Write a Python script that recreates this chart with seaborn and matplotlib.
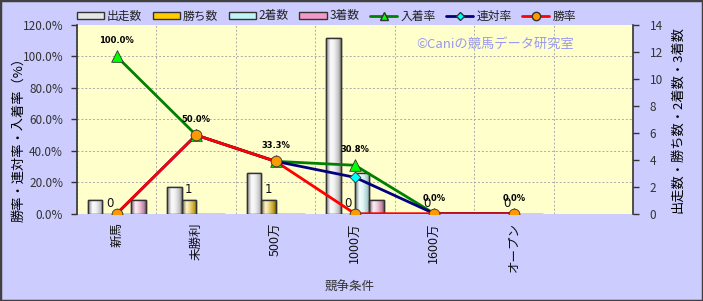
import numpy as np
import pandas as pd
import matplotlib
matplotlib.use("Agg")
import matplotlib.pyplot as plt
from matplotlib.colors import LinearSegmentedColormap, to_rgb
from matplotlib.patches import Patch, Rectangle
from matplotlib.lines import Line2D
import seaborn as sns

# ---------------- data ----------------
categories = ["新馬", "未勝利", "500万", "1000万", "1600万", "オープン"]
starts = [1, 2, 3, 13, 0, 0]          # 出走数
wins = [0, 1, 1, 0, 0, 0]             # 勝ち数
seconds = [0, 0, 0, 3, 0, 0]          # 2着数
thirds = [1, 0, 0, 1, 0, 0]           # 3着数
show_rate = [100.0, 50.0, 33.3, 30.8, 0.0, 0.0]   # 入着率
quinella_rate = [0.0, 50.0, 33.3, 23.1, 0.0, 0.0]  # 連対率
win_rate = [0.0, 50.0, 33.3, 0.0, 0.0, 0.0]        # 勝率
bar_series = ["出走数", "勝ち数", "2着数", "3着数"]
line_series = ["入着率", "連対率", "勝率"]
left_ticks = [0, 20, 40, 60, 80, 100, 120]
right_ticks = [0, 2, 4, 6, 8, 10, 12, 14]

sns.set_theme(style="white")
plt.rcParams["font.family"] = ["Noto Sans CJK JP", "DejaVu Sans"]

bar_colors = {"出走数": "#E6E6E6", "勝ち数": "#FFCC00", "2着数": "#BFF5F5", "3着数": "#F29AC4"}
line_colors = {"入着率": "#008000", "連対率": "#000080", "勝率": "#FF0000"}
marker_fill = {"入着率": "#00FF00", "連対率": "#00FFFF", "勝率": "#FF9900"}
marker_shape = {"入着率": "^", "連対率": "D", "勝率": "o"}
marker_size = {"入着率": 70, "連対率": 30, "勝率": 60}

bars_df = pd.DataFrame({
    "cat": np.tile(categories, 4),
    "series": np.repeat(bar_series, len(categories)),
    "value": starts + wins + seconds + thirds,
})
lines_df = pd.DataFrame({
    "pos": np.tile(np.arange(len(categories)), 3),
    "series": np.repeat(line_series, len(categories)),
    "rate": show_rate + quinella_rate + win_rate,
})

W, H = 703, 301
fig = plt.figure(figsize=(W / 100, H / 100), dpi=100)
fig.patch.set_facecolor("#CCCCFF")
fig.patches.append(Rectangle((0, 0), 1, 1, transform=fig.transFigure, fill=False,
                             edgecolor="#404040", linewidth=2.5, zorder=10))

ax = fig.add_axes([77 / W, 1 - 213.7 / H, 556 / W, 188.7 / H])
ax.set_facecolor("#FFFFCC")

sns.barplot(data=bars_df, x="cat", y="value", hue="series", order=categories,
            hue_order=bar_series, palette=bar_colors, width=0.73, ax=ax,
            edgecolor="#333333", linewidth=1.0, legend=False, zorder=3)

# gradient shading on bars (cylinder look)
for p in list(ax.patches):
    h = p.get_height()
    if h <= 0:
        continue
    x0, w = p.get_x(), p.get_width()
    base = np.array(to_rgb(p.get_facecolor()))
    dark = base * 0.55
    light = base + (1 - base) * 0.85
    cmap = LinearSegmentedColormap.from_list(
        "g", [(0, dark), (0.3, light), (0.55, base + (1 - base) * 0.4), (0.85, base * 0.85), (1, dark)])
    grad = np.linspace(0, 1, 64).reshape(1, -1)
    im = ax.imshow(grad, cmap=cmap, extent=[x0, x0 + w, 0, h], aspect="auto",
                   zorder=3.5, interpolation="bilinear")
    im.set_clip_path(p)
    p.set_zorder(3)
    edge = Rectangle((x0, 0), w, h, fill=False, edgecolor="#333333", linewidth=1.0, zorder=4)
    ax.add_patch(edge)

# labels for 勝ち数 bars
bw = 0.73 / 4
for i, v in enumerate(wins):
    ax.annotate(str(v), (i - 0.5 * bw, v), xytext=(0, 3), textcoords="offset points",
                ha="center", va="bottom", fontsize=8.5, color="#111111",
                family=["DejaVu Sans"], zorder=6)

# -------- rate lines on twin axis --------
ax2 = ax.twinx()
ax2.patch.set_visible(False)

ax.set_xlim(-0.5, 6.5)
ax.set_ylim(0, 14)
ax.yaxis.tick_right()
ax.yaxis.set_label_position("right")
ax.set_yticks(right_ticks)
ax.set_yticklabels([str(t) for t in right_ticks], fontsize=8.5, color="#333333")
ax.set_yticks(np.linspace(0, 14, 7), minor=True)
ax.set_xticks(np.arange(-0.5, 7, 1), minor=True)
ax.grid(which="minor", color="#AAAAAA", linestyle=(0, (2, 2)), linewidth=0.7, zorder=0)
ax.grid(which="major", visible=False)
ax.set_axisbelow(True)
ax.tick_params(axis="y", which="major", right=True, left=False, labelright=True,
               labelleft=False, length=4, width=1, color="#333333", pad=8)
ax.tick_params(axis="y", which="minor", length=0, right=False, left=False)
ax.tick_params(axis="x", which="both", length=0, pad=6)
ax.set_xticks(range(len(categories)))
ax.set_xticklabels(categories, rotation=90, fontsize=9, color="#111111")
ax.set_xlabel("競争条件", fontsize=9, color="#333333")
ax.xaxis.set_label_coords(0.49, -0.355)
ax.set_ylabel("")
for s in ["top", "bottom", "left"]:
    ax.spines[s].set_visible(False)
ax.spines["right"].set_color("#333333")
ax.spines["right"].set_linewidth(1.2)

fig.text(678 / W, 1 - 120 / H, "出走数・勝ち数・2着数・3着数", rotation=90, ha="center",
         va="center", fontsize=9.5, color="#000000")

for s in line_series:
    d = lines_df[lines_df["series"] == s]
    sns.lineplot(data=d, x="pos", y="rate", color=line_colors[s], linewidth=2.0,
                 ax=ax2, legend=False, zorder=5)
    sns.scatterplot(data=d, x="pos", y="rate", color=marker_fill[s], marker=marker_shape[s],
                    s=marker_size[s], edgecolor="#333333", linewidth=0.6, ax=ax2,
                    legend=False, zorder=6)

for i, v in enumerate(show_rate):
    ax2.annotate(f"{v:.1f}%", (i, v), xytext=(0, 8), textcoords="offset points",
                 ha="center", va="bottom", fontsize=6, fontweight="bold",
                 family=["DejaVu Sans"], color="#000000", zorder=7)

ax2.set_ylim(0, 120)
ax2.set_xlim(-0.5, 6.5)
ax2.yaxis.tick_left()
ax2.yaxis.set_label_position("left")
ax2.set_yticks(left_ticks)
ax2.set_yticklabels([f"{t:.1f}%" for t in left_ticks], fontsize=8.5, color="#333333")
ax2.tick_params(axis="y", left=True, right=False, labelleft=True, labelright=False,
                length=4, width=1, color="#333333", pad=6)
ax2.set_ylabel("")
ax2.set_xlabel("")
ax2.grid(False)
for s in ["top", "bottom", "right"]:
    ax2.spines[s].set_visible(False)
ax2.spines["left"].set_color("#333333")
ax2.spines["left"].set_linewidth(1.2)

fig.text(19 / W, 1 - 136 / H, "勝率・連対率・入着率（%）", rotation=90, ha="center",
         va="center", fontsize=9.5, color="#000000")

ax2.text(0.752, 0.9, "©Caniの競馬データ研究室", transform=ax.transAxes, ha="center",
         va="center", fontsize=9.5, color="#9999EE", zorder=2)

# -------- legend --------
handles = [Patch(facecolor=bar_colors[s], edgecolor="#333333", linewidth=1.0) for s in bar_series]
handles += [Line2D([0], [0], color=line_colors[s], linewidth=2, marker=marker_shape[s],
                   markerfacecolor=marker_fill[s], markeredgecolor="#333333",
                   markersize=6 if s != "連対率" else 4) for s in line_series]
fig.legend(handles, bar_series + line_series, loc="center", bbox_to_anchor=(0.464, 1 - 16 / H),
           ncol=7, frameon=False, fontsize=8.5, handlelength=2.3, handleheight=0.5,
           handletextpad=0.25, columnspacing=0.9, labelcolor="#222222")

fig.savefig("out.png", dpi=100, facecolor=fig.get_facecolor())
